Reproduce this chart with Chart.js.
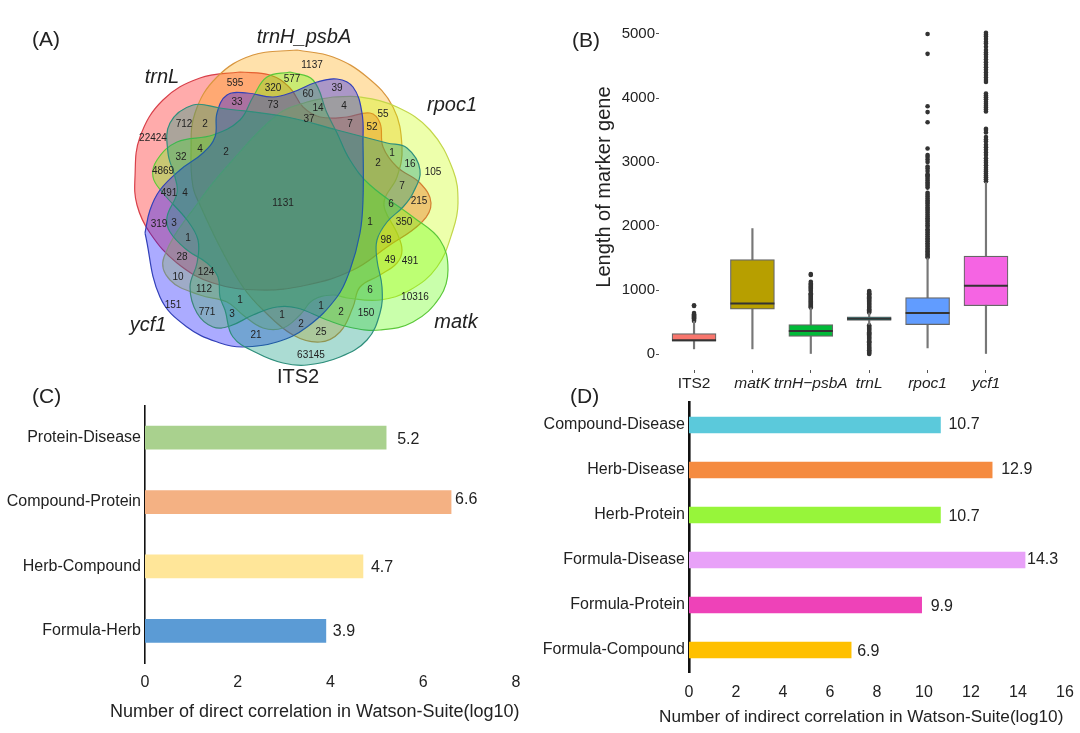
<!DOCTYPE html>
<html>
<head>
<meta charset="utf-8">
<script src="https://cdn.jsdelivr.net/npm/chart.js@4"></script>
<style>
  body { margin: 0; background: #fff; width: 1080px; height: 733px; position: relative; overflow: hidden; }
  canvas { position: absolute; }
  .t { position: absolute; white-space: nowrap; font-family: "Liberation Sans", Arial, sans-serif; color: #222; }
  .panel { font-size: 21px; }
</style>
</head>
<body>
<canvas id="venn" width="540" height="392" style="left:0;top:0"></canvas>
<canvas id="box" width="470" height="401" style="left:590px;top:-6px"></canvas>
<canvas id="direct" width="540" height="335" style="left:0;top:395px"></canvas>
<canvas id="indirect" width="540" height="335" style="left:540px;top:395px"></canvas>
<div class="t panel" style="left:32px;top:27px">(A)</div>
<div class="t panel" style="left:572px;top:28px">(B)</div>
<div class="t panel" style="left:32px;top:384px">(C)</div>
<div class="t panel" style="left:570px;top:384px">(D)</div>
<div class="t" style="left:603px;top:187px;font-size:20px;transform:translate(-50%,-50%) rotate(-90deg)">Length of marker gene</div>
<div class="t" style="left:110px;top:701px;font-size:18px">Number of direct correlation in Watson-Suite(log10)</div>
<div class="t" style="left:659px;top:706px;font-size:17.2px">Number of indirect correlation in Watson-Suite(log10)</div>
<script>
const FONT = '"Liberation Sans", Arial, sans-serif';

// Panel A - petal outlines
const trnLOutline = [[240,72],[270,75],[290,88],[303,107],[320,117],[347,117],[370,113],[380,123],[383,147],[397,167],[420,183],[431,203],[422,222],[387,247],[353,270],[307,285],[260,290],[213,283],[177,263],[150,233],[137,205],[135,177],[140,137],[163,100],[200,78],[240,72]];
const trnHOutline = [[297,50],[253,55],[217,77],[195,113],[191,153],[193,187],[200,205],[220,247],[243,287],[263,310],[293,335],[320,342],[340,332],[353,307],[360,287],[380,275],[397,263],[402,250],[397,233],[385,210],[385,198],[397,177],[402,147],[393,107],[367,77],[333,57],[297,50]];
const rpoc1Outline = [[333,97],[360,97],[397,107],[430,130],[453,170],[458,203],[453,230],[437,267],[410,290],[380,300],[347,298],[333,295],[313,300],[300,315],[283,328],[263,328],[243,315],[227,302],[200,295],[170,280],[164,257],[200,200],[230,163],[277,115],[307,102],[333,97]];
const matKOutline = [[290,72],[313,80],[327,113],[337,133],[350,160],[370,185],[413,217],[440,240],[448,270],[440,297],[413,322],[380,330],[353,328],[327,320],[297,308],[277,307],[253,315],[230,326],[213,327],[197,313],[190,287],[197,263],[198,240],[187,220],[163,193],[153,177],[157,160],[177,142],[213,135],[240,120],[253,97],[267,77],[290,72]];
const ycf1Outline = [[145,233],[160,297],[187,327],[220,343],[243,347],[277,342],[307,327],[337,297],[350,270],[360,233],[363,200],[363,143],[362,113],[353,87],[337,79],[317,82],[293,92],[273,97],[247,93],[227,95],[217,113],[215,137],[203,153],[180,170],[160,190],[150,210],[145,233]];
const its2Outline = [[220,108],[193,105],[170,123],[168,153],[175,177],[177,193],[167,217],[170,232],[187,250],[207,263],[218,277],[220,297],[225,310],[233,337],[257,353],[283,363],[307,365],[340,357],[367,340],[380,313],[382,287],[377,260],[377,240],[387,222],[403,207],[413,193],[420,170],[407,148],[387,143],[337,130],[287,117],[220,108]];

// Panel A - region counts
const regionCounts = ['1137','595','577','320','39','60','33','73','14','4','55','37','7','52','712','2','22424','4','2','32','1','16','2','105','4869','491','4','7','215','6','1131','319','3','1','350','1','98','28','49','491','124','10','112','6','10316','151','1','771','3','1','2','150','1','2','25','21','63145'];
const regionX = [312,235,292,273,337,308,237,273,318,344,383,309,350,372,184,205,153,200,226,181,392,410,378,433,163,169,185,402,419,391,283,159,174,370,404,188,386,182,390,410,206,178,204,370,415,173,240,207,232,321,341,366,282,301,321,256,311];
const regionY = [65,83,79,88,88,94,102,105,108,106,114,119,124,127,124,124,138,149,152,157,153,164,163,172,171,193,193,186,201,204,203,224,223,222,222,238,240,257,260,261,272,277,289,290,297,305,300,312,314,306,312,313,315,324,332,335,355];

// Panel A - set names
const setNames = ['trnL','trnH_psbA','rpoc1','matk','ycf1','ITS2'];
const setX = [162,304,452,456,148,298];
const setY = [77,37,105,322,325,377];

// Panel B - boxplot
const markers = ['ITS2','matK','trnH\u2212psbA','trnL','rpoc1','ycf1'];
const lengthTicks = [0,1000,2000,3000,4000,5000];
const q1 = [200,700,275,525,460,755];
const median = [215,790,360,550,640,1065];
const q3 = [320,1475,460,580,880,1530];
const whiskerLow = [80,80,0,460,95,0];
const whiskerHigh = [510,1960,720,640,1500,2680];
const boxColors = ['#F8766D','#B79F00','#00BA38','#00BFC4','#619CFF','#F564E3'];

const its2Outliers = [515,530,545,560,575,590,605,620,640,750,760];
const matKOutliers = [];
const trnHOutliers = [725,740,755,770,785,800,815,830,845,860,875,890,905,920,935,950,985,1000,1020,1035,1050,1065,1085,1100,1130,1235,1250];
const trnLOutliers = [0,15,30,45,60,80,95,110,130,150,170,185,200,220,240,255,270,290,310,325,340,360,380,395,410,430,450,650,665,685,700,720,735,750,770,785,800,820,835,850,870,885,900,920,935,950,970,985];
const rpoc1Outliers = [1510,1530,1555,1580,1600,1625,1650,1680,1705,1730,1760,1785,1810,1840,1870,1900,1925,1950,1985,2010,2040,2070,2095,2120,2150,2180,2210,2240,2265,2290,2320,2350,2375,2400,2430,2460,2490,2520,2600,2630,2655,2680,2710,2740,2770,2790,2810,2860,2900,2930,3000,3040,3080,3110,3210,3620,3780,3870,4690,5000];
const ycf1Outliers = [2700,2730,2760,2790,2820,2850,2880,2910,2950,2990,3020,3060,3110,3150,3190,3230,3270,3320,3350,3390,3460,3500,3520,3790,3820,3850,3880,3910,3940,3980,4010,4040,4070,4250,4280,4320,4360,4400,4440,4480,4520,4560,4600,4640,4680,4710,4750,4800,4850,4880,4920,4960,4990,5020];

// Panel C
const directLabels = ['Protein-Disease','Compound-Protein','Herb-Compound','Formula-Herb'];
const directValues = [5.2,6.6,4.7,3.9];
const directColors = ['#A9D18E','#F4B183','#FFE699','#5B9BD5'];

// Panel D
const indirectLabels = ['Compound-Disease','Herb-Disease','Herb-Protein','Formula-Disease','Formula-Protein','Formula-Compound'];
const indirectValues = [10.7,12.9,10.7,14.3,9.9,6.9];
const indirectColors = ['#5BC9DB','#F58B40','#97F53A','#E8A1F8','#EE42B8','#FFC000'];

const toXY = pts => pts.map(p => ({x: p[0], y: p[1]}));

function petal(pts, fill, stroke) {
  return {
    data: toXY(pts), showLine: true, tension: 0.4, fill: 'shape',
    backgroundColor: fill, borderColor: stroke, borderWidth: 1.2, pointRadius: 0
  };
}

// keeps the plot area where it was asked for, whatever the tick labels need
function noScalePadding(s) {
  s.paddingTop = 0; s.paddingBottom = 0; s.paddingLeft = 0; s.paddingRight = 0;
}

const vennText = {
  id: 'vennText',
  afterDraw(chart) {
    const {ctx, scales: {x, y}} = chart;
    ctx.save();
    ctx.textAlign = 'center';
    ctx.textBaseline = 'middle';
    ctx.fillStyle = '#222';
    ctx.font = '10px ' + FONT;
    regionCounts.forEach((c, i) => ctx.fillText(c, x.getPixelForValue(regionX[i]), y.getPixelForValue(regionY[i])));
    setNames.forEach((n, i) => {
      ctx.font = (n === 'ITS2' ? '' : 'italic ') + '20px ' + FONT;
      ctx.fillText(n, x.getPixelForValue(setX[i]), y.getPixelForValue(setY[i]));
    });
    ctx.restore();
  }
};

new Chart(document.getElementById('venn'), {
  type: 'scatter',
  data: {
    datasets: [
      petal(its2Outline, 'rgba(0,150,120,0.33)', '#2f8f7c'),
      petal(ycf1Outline, 'rgba(0,0,255,0.33)', '#3240b8'),
      petal(matKOutline, 'rgba(90,255,0,0.33)', '#5cc83a'),
      petal(rpoc1Outline, 'rgba(200,255,0,0.33)', '#c3d64a'),
      petal(trnHOutline, 'rgba(255,165,0,0.33)', '#d8963f'),
      petal(trnLOutline, 'rgba(255,0,0,0.33)', '#d8404a')
    ]
  },
  options: {
    responsive: false, animation: false,
    layout: {padding: 0},
    plugins: {legend: {display: false}, tooltip: {enabled: false}},
    scales: {
      x: {type: 'linear', min: 0, max: 540, display: false},
      y: {type: 'linear', min: 0, max: 392, reverse: true, display: false}
    }
  },
  plugins: [vennText]
});

// Boxplot
const outlierSets = [its2Outliers, matKOutliers, trnHOutliers, trnLOutliers, rpoc1Outliers, ycf1Outliers];
const outlierPoints = outlierSets.flatMap((vals, i) => vals.map(v => ({x: i, y: v})));

new Chart(document.getElementById('box'), {
  type: 'bar',
  data: {
    datasets: [
      {
        type: 'scatter', data: outlierPoints, pointRadius: 2.3, backgroundColor: '#333', borderWidth: 0, order: 4
      },
      {
        data: whiskerLow.map((v, i) => ({x: i, y: [v, whiskerHigh[i]]})),
        backgroundColor: '#777', barThickness: 1.5, grouped: false, order: 3
      },
      {
        data: q1.map((v, i) => ({x: i, y: [v, q3[i]]})),
        backgroundColor: boxColors, borderColor: '#666', borderWidth: 1.2, borderSkipped: false,
        barThickness: 44, grouped: false, order: 2
      },
      {
        type: 'scatter', data: median.map((v, i) => ({x: i, y: v})),
        pointStyle: 'line', pointRadius: 22, borderColor: '#333', pointBorderColor: '#333', pointBorderWidth: 2, order: 1
      }
    ]
  },
  options: {
    responsive: false, animation: false,
    // the wide median points already reserve 24px at the top of the canvas
    layout: {padding: {top: 0, right: 39, bottom: 0, left: 0}},
    plugins: {legend: {display: false}, tooltip: {enabled: false}},
    scales: {
      x: {
        type: 'linear', min: -0.6, max: 5.6, offset: false,
        grid: {drawOnChartArea: false, tickLength: 3, color: '#555', offset: false},
        border: {display: false},
        afterFit: s => { noScalePadding(s); s.height = 25; },
        ticks: {
          stepSize: 1, includeBounds: false, maxRotation: 0, autoSkip: false, padding: 1, color: '#222',
          callback: v => markers[v],
          font: ctx => ({family: FONT, size: 15.5, style: ctx.tick && ctx.tick.value === 0 ? 'normal' : 'italic'})
        }
      },
      y: {
        type: 'linear', min: -250, max: 5250,
        grid: {drawOnChartArea: false, tickLength: 3, color: '#555'},
        border: {display: false},
        afterBuildTicks: s => { s.ticks = lengthTicks.map(v => ({value: v})); },
        afterFit: s => { noScalePadding(s); s.width = 69; },
        ticks: {padding: 1, color: '#222', font: {family: FONT, size: 15}, callback: v => String(v)}
      }
    }
  }
});

// Value labels for the horizontal bars
const barValues = {
  id: 'barValues',
  afterDatasetsDraw(chart, args, opts) {
    const {ctx} = chart;
    const meta = chart.getDatasetMeta(0);
    ctx.save();
    ctx.font = '16px ' + FONT;
    ctx.fillStyle = '#222';
    ctx.textAlign = 'left';
    ctx.textBaseline = 'middle';
    meta.data.forEach((bar, i) => {
      const n = opts.nudge[i];
      ctx.fillText(chart.data.datasets[0].data[i].toFixed(1), bar.x + n[0], bar.y + n[1]);
    });
    ctx.restore();
  }
};

function hbar(id, labels, values, colors, o) {
  new Chart(document.getElementById(id), {
    type: 'bar',
    data: {labels: labels, datasets: [{data: values, backgroundColor: colors, barThickness: o.thick}]},
    options: {
      indexAxis: 'y', responsive: false, animation: false,
      layout: {padding: {top: o.top, right: o.right, bottom: 0, left: 0}},
      plugins: {legend: {display: false}, tooltip: {enabled: false}, barValues: {nudge: o.nudge}},
      scales: {
        x: {
          min: 0, max: o.max,
          grid: {display: false, drawTicks: false},
          border: {display: false},
          afterFit: s => { noScalePadding(s); s.height = o.xh; },
          ticks: {stepSize: 2, padding: 10, color: '#222', font: {family: FONT, size: 16}}
        },
        y: {
          grid: {display: false, drawTicks: false},
          border: {color: '#111', width: o.axis},
          afterFit: s => { noScalePadding(s); s.width = o.yw; },
          ticks: {padding: 4, color: '#222', font: {family: FONT, size: 16}}
        }
      }
    },
    plugins: [barValues]
  });
}

hbar('direct', directLabels, directValues, directColors, {
  thick: 23, top: 10.5, right: 24, max: 8, xh: 67, yw: 145, axis: 1.6,
  nudge: [[11,2],[4,-2],[8,1],[7,1]]
});
hbar('indirect', indirectLabels, indirectValues, indirectColors, {
  thick: 16, top: 7.5, right: 15, max: 16, xh: 57.5, yw: 149, axis: 2.6,
  nudge: [[8,0],[9,0],[8,2],[2,0],[9,2],[6,2]]
});
</script>
</body>
</html>
